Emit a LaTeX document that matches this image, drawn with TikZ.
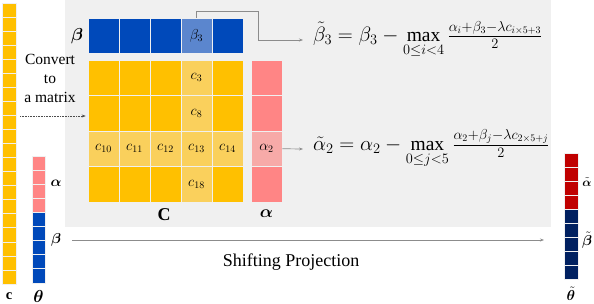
\documentclass[tikz,border=0pt]{standalone}
\usepackage{amsmath}
\usepackage{bm}
\usepackage{fontspec}
\setmainfont{Liberation Serif}
\usetikzlibrary{arrows.meta,calc}
\definecolor{bgc}{HTML}{F0F0F0}
\definecolor{corange}{HTML}{FFC000}
\definecolor{clorange}{HTML}{FAD05C}
\definecolor{cblue}{HTML}{0049BA}
\definecolor{clblue}{HTML}{5B86CE}
\definecolor{cpink}{HTML}{FF8585}
\definecolor{clpink}{HTML}{F7AAA8}
\definecolor{cdred}{HTML}{C00000}
\definecolor{cnavy}{HTML}{002060}
\definecolor{cline}{HTML}{8C8C8C}
\tikzset{
  cell/.style={draw=white!88!gray, line width=0.6pt, inner sep=0pt, minimum width=31pt, minimum height=35.5pt, font=\fontsize{14}{15}\selectfont},
  vcell/.style={draw=white!88!gray, line width=0.6pt, inner sep=0pt, minimum width=14pt, minimum height=14pt},
  conn/.style={draw=cline, line width=0.7pt, -{Stealth[length=4pt,width=3pt]}},
  lab/.style={inner sep=0pt, font=\fontsize{14.5}{16}\selectfont},
  biglab/.style={inner sep=0pt, font=\fontsize{18}{20}\selectfont},
  eq/.style={inner xsep=10pt, inner ysep=0pt, anchor=west, font=\fontsize{19.5}{22}\selectfont},
}
\begin{document}
\begin{tikzpicture}[x=1pt,y=-1pt]
\useasboundingbox (0,0) rectangle (594,304);
\fill[bgc] (65,0) rectangle (551,227);

% c vector
\foreach \i in {0,...,19}
  \node[vcell, fill=corange, minimum height=14.05pt] (c\i) at (9, 3+14.05*\i+7.025) {};
\node[lab] (clab) at (9,296) {$\mathbf{c}$};

% theta vector
\foreach \i in {0,...,3}
  \node[vcell, fill=cpink, minimum width=13pt, minimum height=14.1pt] (ta\i) at (38.5, 156+14.1*\i+7.05) {};
\foreach \i in {0,...,4}
  \node[vcell, fill=cblue, minimum width=13pt, minimum height=14.1pt] (tb\i) at (38.5, 212.4+14.1*\i+7.05) {};
\node[lab, font=\fontsize{16}{18}\selectfont] (thlab) at (38.5,296) {$\bm{\theta}$};
\node[lab] (alab1) at (56,183) {$\bm{\alpha}$};
\node[lab] (blab1) at (56,240) {$\bm{\beta}$};

% convert text
\node[align=center, font=\fontsize{15.5}{19}\selectfont, inner sep=0pt] (conv) at (50,78) {Convert\\to\\a matrix};

% beta row
\foreach \j in {0,...,4}
  \node[cell, fill=cblue, minimum height=35pt] (b\j) at (88+31*\j+15.5, 35.5) {};
\node[cell, fill=clblue, minimum height=35pt] (b3) at (88+31*3+15.5, 35.5) {$\beta_3$};
\node[biglab] (blab2) at (77,36) {$\bm{\beta}$};

% C matrix
\foreach \r in {0,...,3}
  \foreach \j in {0,...,4}
    \node[cell, fill=corange] (m\r\j) at (88+31*\j+15.5, 60+35.5*\r+17.75) {};
\foreach \r/\k in {0/3,1/8,3/18}
  \node[cell, fill=clorange] (m\r3) at (88+31*3+15.5, 60+35.5*\r+17.75) {$c_{\k}$};
\foreach \j/\k in {0/10,1/11,2/12,3/13,4/14}
  \node[cell, fill=clorange] (m2\j) at (88+31*\j+15.5, 60+35.5*2+17.75) {$c_{\k}$};
\node[biglab] (Clab) at (164,215) {$\mathbf{C}$};

% alpha column
\foreach \r in {0,...,3}
  \node[cell, fill=cpink] (a\r) at (266.5, 60+35.5*\r+17.75) {};
\node[cell, fill=clpink] (a2) at (266.5, 60+35.5*2+17.75) {$\alpha_2$};
\node[biglab] (alab2) at (266.5,214) {$\bm{\alpha}$};

% equations
\node[eq] (eqb) at (303,40) {$\tilde{\beta}_3=\beta_3-\max\limits_{0\leq i<4}\frac{\alpha_i+\beta_3-\lambda c_{i\times5+3}}{2}$};
\node[eq] (eqa) at (303,149) {$\tilde{\alpha}_2=\alpha_2-\max\limits_{0\leq j<5}\frac{\alpha_2+\beta_j-\lambda c_{2\times5+j}}{2}$};

\coordinate (k1) at (258,11);
\draw[conn] (b3.north) |- (k1) |- (eqb.west);
\draw[conn] (a2.east) -- (eqa.west);

% convert arrow
\coordinate (cv) at (20,116);
\draw[densely dotted, draw=black!70, line width=0.6pt, -{Stealth[length=4pt,width=3pt]}] (cv) -- ($(cv -| m10.west)+(-2,0)$);

% output vector
\foreach \i in {0,...,3}
  \node[vcell, fill=cdred] (oa\i) at (571, 153+14*\i+7) {};
\foreach \i in {0,...,4}
  \node[vcell, fill=cnavy] (ob\i) at (571, 209+14*\i+7) {};
\node[lab, font=\fontsize{13}{14}\selectfont] (oalab) at (587,182) {$\tilde{\bm{\alpha}}$};
\node[lab, font=\fontsize{14}{15}\selectfont] (oblab) at (587,240) {$\tilde{\bm{\beta}}$};
\node[lab, font=\fontsize{15}{16}\selectfont] (othlab) at (571,294) {$\tilde{\bm{\theta}}$};

% shifting projection
\coordinate (sp1) at (72,240);
\coordinate (sp2) at (544,240);
\draw[conn, line width=0.8pt] (sp1) -- (sp2);
\node[font=\fontsize{18}{20}\selectfont, inner sep=0pt] (sptext) at (291,262) {Shifting Projection};
\end{tikzpicture}
\end{document}
